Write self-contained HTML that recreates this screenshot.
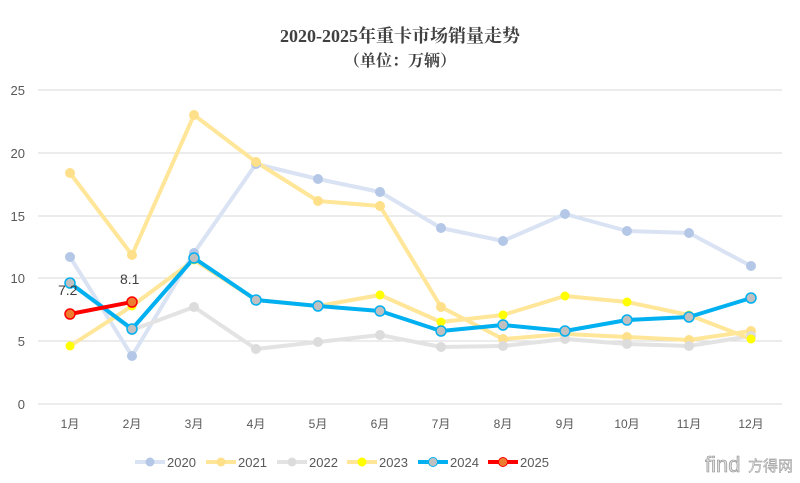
<!DOCTYPE html><html><head><meta charset="utf-8"><style>body{margin:0;background:#fff}svg{display:block}text{font-family:"Liberation Sans","Noto Sans CJK SC",sans-serif}</style></head><body>
<svg width="800" height="483" viewBox="0 0 800 483" xmlns="http://www.w3.org/2000/svg">
<rect width="800" height="483" fill="#fff"/>
<text x="400" y="42" text-anchor="middle" font-size="18" font-weight="bold" fill="#404040" style="font-family:'Liberation Serif','Noto Serif CJK SC',serif">2020-2025年重卡市场销量走势</text>
<text x="400" y="66" text-anchor="middle" font-size="16" font-weight="bold" fill="#404040" style="font-family:'Liberation Serif','Noto Serif CJK SC',serif">（单位：万辆）</text>
<g stroke="#d9d9d9" stroke-width="1">
<line x1="38" x2="782" y1="404" y2="404"/><line x1="38" x2="782" y1="341" y2="341"/><line x1="38" x2="782" y1="278" y2="278"/><line x1="38" x2="782" y1="216" y2="216"/><line x1="38" x2="782" y1="153" y2="153"/><line x1="38" x2="782" y1="90" y2="90"/></g>
<g font-size="13" fill="#595959" text-anchor="end"><text x="25" y="409">0</text><text x="25" y="346">5</text><text x="25" y="283">10</text><text x="25" y="221">15</text><text x="25" y="158">20</text><text x="25" y="95">25</text></g>
<g font-size="12" fill="#595959" text-anchor="middle"><text x="70" y="428">1月</text><text x="132" y="428">2月</text><text x="194" y="428">3月</text><text x="256" y="428">4月</text><text x="318" y="428">5月</text><text x="380" y="428">6月</text><text x="441" y="428">7月</text><text x="503" y="428">8月</text><text x="565" y="428">9月</text><text x="627" y="428">10月</text><text x="689" y="428">11月</text><text x="751" y="428">12月</text></g>
<g fill="none" stroke-width="4" stroke-linejoin="round">
<polyline stroke="#dae3f3" points="70,257 132,356 194,253 256,164 318,179 380,192 441,228 503,241 565,214 627,231 689,233 751,266"/>
<polyline stroke="#ffe699" points="70,173 132,255 194,115 256,162 318,201 380,206 441,307 503,339 565,334 627,337 689,340 751,331"/>
<polyline stroke="#e3e3e3" points="70,283 132,330 194,307 256,349 318,342 380,335 441,347 503,346 565,339 627,344 689,346 751,336"/>
<polyline stroke="#ffe699" points="70,346 132,306 194,260 256,300 318,306 380,295 441,322 503,315 565,296 627,302 689,315 751,339"/>
<polyline stroke="#00b0f0" points="70,283 132,329 194,258 256,300 318,306 380,311 441,331 503,325 565,331 627,320 689,317 751,298"/>
<polyline stroke="#ff0000" points="70,314 132,302"/></g>
<g fill="#b4c7e7"><circle cx="70" cy="257" r="5"/><circle cx="132" cy="356" r="5"/><circle cx="194" cy="253" r="5"/><circle cx="256" cy="164" r="5"/><circle cx="318" cy="179" r="5"/><circle cx="380" cy="192" r="5"/><circle cx="441" cy="228" r="5"/><circle cx="503" cy="241" r="5"/><circle cx="565" cy="214" r="5"/><circle cx="627" cy="231" r="5"/><circle cx="689" cy="233" r="5"/><circle cx="751" cy="266" r="5"/></g>
<g fill="#ffe08a"><circle cx="70" cy="173" r="5"/><circle cx="132" cy="255" r="5"/><circle cx="194" cy="115" r="5"/><circle cx="256" cy="162" r="5"/><circle cx="318" cy="201" r="5"/><circle cx="380" cy="206" r="5"/><circle cx="441" cy="307" r="5"/><circle cx="503" cy="339" r="5"/><circle cx="565" cy="334" r="5"/><circle cx="627" cy="337" r="5"/><circle cx="689" cy="340" r="5"/><circle cx="751" cy="331" r="5"/></g>
<g fill="#dcdcdc"><circle cx="132" cy="330" r="5"/><circle cx="194" cy="307" r="5"/><circle cx="256" cy="349" r="5"/><circle cx="318" cy="342" r="5"/><circle cx="380" cy="335" r="5"/><circle cx="441" cy="347" r="5"/><circle cx="503" cy="346" r="5"/><circle cx="565" cy="339" r="5"/><circle cx="627" cy="344" r="5"/><circle cx="689" cy="346" r="5"/><circle cx="751" cy="336" r="5"/></g>
<g fill="#ffff00"><circle cx="70" cy="346" r="4.5"/><circle cx="132" cy="306" r="4.5"/><circle cx="194" cy="260" r="4.5"/><circle cx="256" cy="300" r="4.5"/><circle cx="318" cy="306" r="4.5"/><circle cx="380" cy="295" r="4.5"/><circle cx="441" cy="322" r="4.5"/><circle cx="503" cy="315" r="4.5"/><circle cx="565" cy="296" r="4.5"/><circle cx="627" cy="302" r="4.5"/><circle cx="689" cy="315" r="4.5"/><circle cx="751" cy="339" r="4.5"/></g>
<g fill="#c0c0c0" stroke="#00b0f0" stroke-width="1.5"><circle cx="70" cy="283" r="5"/><circle cx="132" cy="329" r="5"/><circle cx="194" cy="258" r="5"/><circle cx="256" cy="300" r="5"/><circle cx="318" cy="306" r="5"/><circle cx="380" cy="311" r="5"/><circle cx="441" cy="331" r="5"/><circle cx="503" cy="325" r="5"/><circle cx="565" cy="331" r="5"/><circle cx="627" cy="320" r="5"/><circle cx="689" cy="317" r="5"/><circle cx="751" cy="298" r="5"/></g>
<g fill="#ed7d31" stroke="#ff0000" stroke-width="1.5"><circle cx="70" cy="314" r="5"/><circle cx="132" cy="302" r="5"/></g>
<g font-size="14" fill="#404040" style="font-family:'Liberation Mono',monospace"><text x="58" y="295">7.2</text><text x="120" y="284">8.1</text></g>
<g font-size="13" fill="#595959">
<line x1="135" x2="165" y1="462" y2="462" stroke="#dae3f3" stroke-width="4"/><circle cx="150" cy="462" r="4.5" fill="#b4c7e7"/><text x="167" y="467">2020</text>
<line x1="206" x2="236" y1="462" y2="462" stroke="#ffe699" stroke-width="4"/><circle cx="221" cy="462" r="4.5" fill="#ffe08a"/><text x="238" y="467">2021</text>
<line x1="277" x2="307" y1="462" y2="462" stroke="#e3e3e3" stroke-width="4"/><circle cx="292" cy="462" r="4.5" fill="#dcdcdc"/><text x="309" y="467">2022</text>
<line x1="347" x2="377" y1="462" y2="462" stroke="#ffe699" stroke-width="4"/><circle cx="362" cy="462" r="4.5" fill="#ffff00"/><text x="379" y="467">2023</text>
<line x1="418" x2="448" y1="462" y2="462" stroke="#00b0f0" stroke-width="4"/><circle cx="433" cy="462" r="4.5" fill="#c0c0c0" stroke="#00b0f0"/><text x="450" y="467">2024</text>
<line x1="488" x2="518" y1="462" y2="462" stroke="#ff0000" stroke-width="4"/><circle cx="503" cy="462" r="4.5" fill="#ed7d31" stroke="#ff0000"/><text x="520" y="467">2025</text></g>
<text x="705" y="472" font-size="22" fill="#e0e0e0" stroke="#888" stroke-width="0.6">find</text><text x="748" y="471" font-size="15" fill="#e0e0e0" stroke="#888" stroke-width="0.4">方得网</text>
</svg></body></html>
